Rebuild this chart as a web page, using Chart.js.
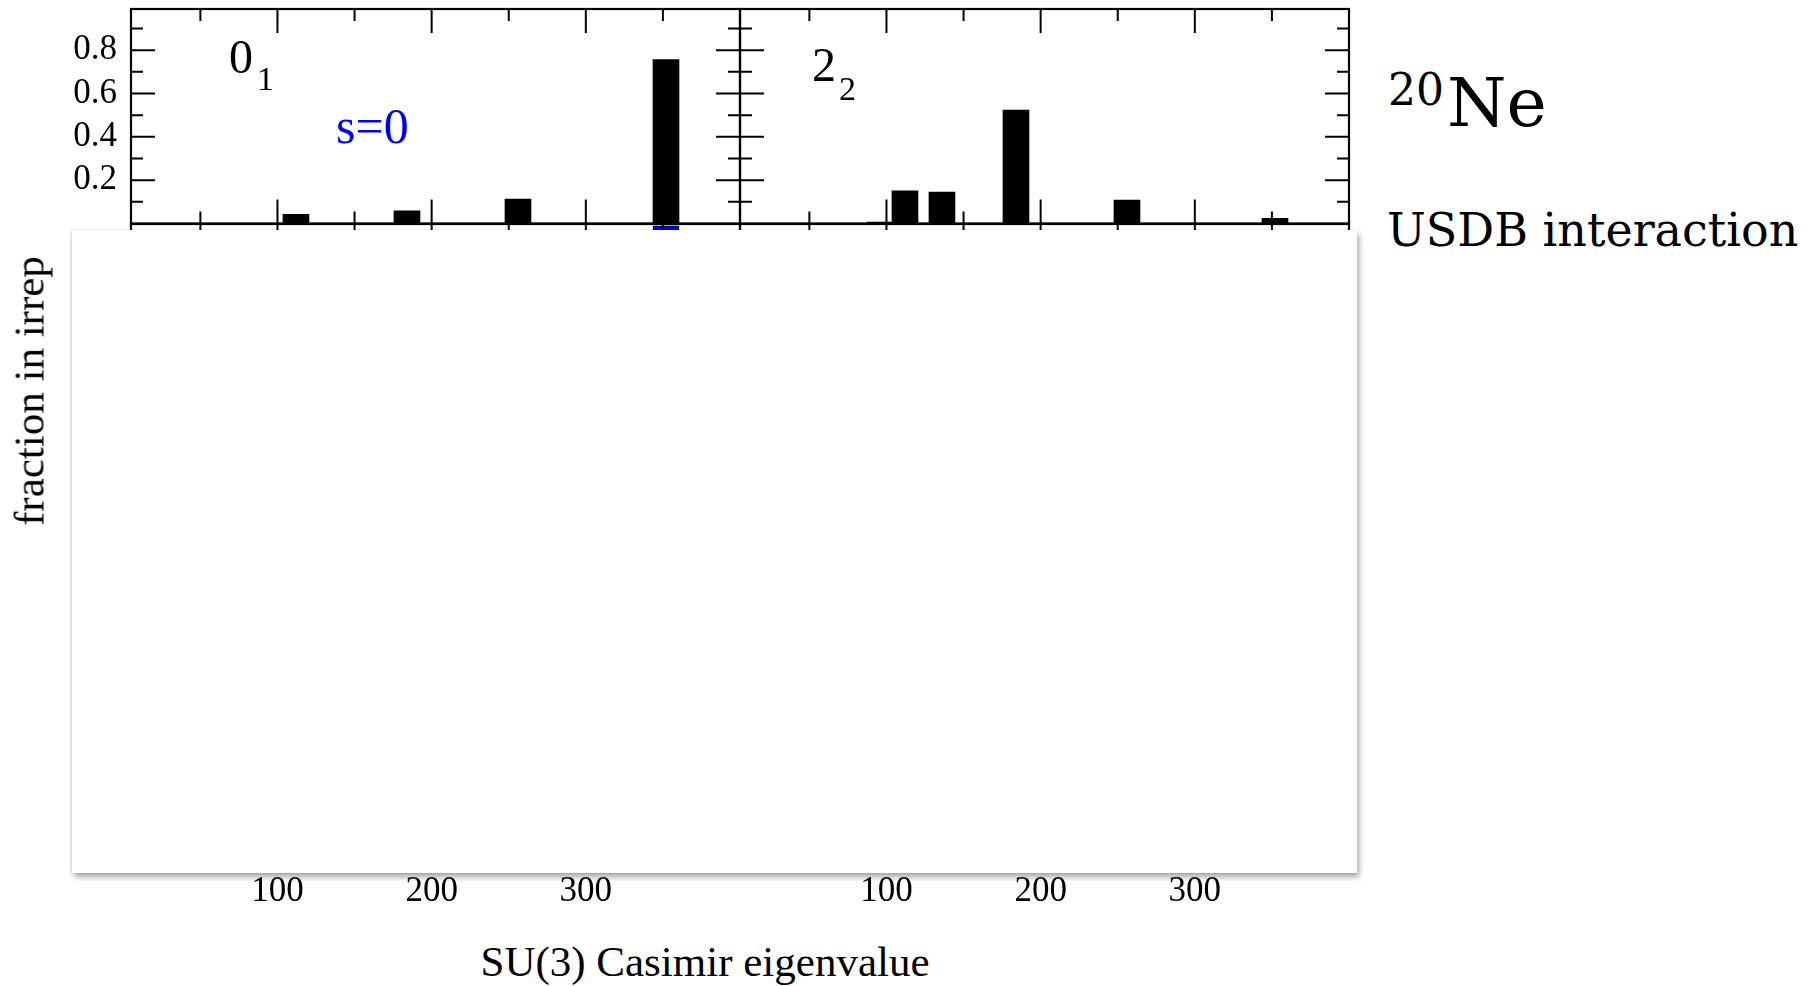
<!DOCTYPE html>
<html><head><meta charset="utf-8">
<script src="https://cdn.jsdelivr.net/npm/chart.js@4/dist/chart.umd.min.js"></script>
<style>
html,body{margin:0;padding:0;background:#fff;width:1819px;height:986px;overflow:hidden;position:relative}
canvas{position:absolute}
.t{position:absolute;white-space:nowrap;line-height:1;color:#000}
.serif{font-family:"Liberation Serif","Times New Roman",serif}
.dv{font-family:"DejaVu Serif",serif}
#cover{position:absolute;left:72px;top:230px;width:1285px;height:643px;background:#fff;box-shadow:2px 4px 6px rgba(0,0,0,0.35),-1px 0 2px rgba(0,0,0,0.12)}
</style></head><body>
<canvas id="bl" width="760" height="730" style="left:0;top:200px"></canvas>
<canvas id="br" width="660" height="730" style="left:720px;top:200px"></canvas>
<canvas id="tl" width="760" height="240" style="left:0;top:0"></canvas>
<canvas id="tr" width="660" height="240" style="left:720px;top:0"></canvas>
<div id="cover"></div>

<div class="t serif" style="left:229px;top:33px;font-size:48px">0</div>
<div class="t serif" style="left:257px;top:62px;font-size:34px">1</div>
<div class="t serif" style="left:812px;top:41px;font-size:48px">2</div>
<div class="t serif" style="left:839px;top:72px;font-size:34px">2</div>
<div class="t serif" style="left:336px;top:101px;font-size:50px;color:#0000ff">s=0</div>

<div class="t dv" style="left:1388px;top:68px;font-size:44px">20</div>
<div class="t dv" style="left:1447px;top:69px;font-size:68px">Ne</div>
<div class="t dv" style="left:1387px;top:207px;font-size:46px">USDB interaction</div>

<div class="t serif" style="left:705px;top:940px;font-size:43px;transform:translateX(-50%)">SU(3) Casimir eigenvalue</div>
<div class="t serif" style="left:29px;top:391px;font-size:43px;transform:translate(-50%,-50%) rotate(-90deg)">fraction in irrep</div>

<script>
// ---- data ----
const casimirTickLabels = [100, 200, 300];
const casimirMajorTicks = [100, 200, 300];
const casimirMinorTicks = [50, 150, 250, 350];
const fractionTickLabels = [0.2, 0.4, 0.6, 0.8];
const fractionMajorTicks = [0.2, 0.4, 0.6, 0.8];
const fractionMinorTicks = [0.1, 0.3, 0.5, 0.7, 0.9];

const state01Casimir = [112, 184, 256, 352];
const state01Fraction = [0.042, 0.058, 0.113, 0.757];

const state22Casimir = [96, 112, 136, 184, 256, 352];
const state22Fraction = [0.006, 0.151, 0.145, 0.523, 0.108, 0.024];

const lowerS0Casimir = [352];
const lowerS0Fraction = [0.997];

const lowerRightCasimir = [];
const lowerRightFraction = [];

// ---- helpers ----
const pts = (xs, ys) => xs.map((x, i) => ({x: x, y: ys[i]}));
const FONT = "'Liberation Serif','Times New Roman',serif";

const frameTicks = {
  id: 'frameTicks',
  afterDatasetsDraw(chart) {
    const {ctx, chartArea: a, scales: {x, y}} = chart;
    ctx.save();
    ctx.strokeStyle = '#000';
    ctx.lineWidth = 2;
    ctx.beginPath();
    const xt = casimirMajorTicks.map(v => [v, 24]).concat(casimirMinorTicks.map(v => [v, 12]));
    const yt = fractionMajorTicks.map(v => [v, 24]).concat(fractionMinorTicks.map(v => [v, 12]));
    for (const [v, len] of xt) {
      const px = x.getPixelForValue(v);
      ctx.moveTo(px, a.bottom); ctx.lineTo(px, a.bottom - len);
      ctx.moveTo(px, a.top); ctx.lineTo(px, a.top + len);
    }
    for (const [v, len] of yt) {
      const py = y.getPixelForValue(v);
      ctx.moveTo(a.left, py); ctx.lineTo(a.left + len, py);
      ctx.moveTo(a.right, py); ctx.lineTo(a.right - len, py);
    }
    ctx.stroke();
    ctx.lineWidth = 2.2;
    ctx.strokeRect(a.left, a.top, a.right - a.left, a.bottom - a.top);
    ctx.restore();
  }
};

function makePanel(id, data, color, opt) {
  const xScale = {
    type: 'linear', min: 5, max: 400, offset: false,
    display: opt.xLabels,
    grid: {display: false, drawTicks: false, offset: false},
    border: {display: false},
    afterBuildTicks: s => { s.ticks = casimirTickLabels.map(v => ({value: v})); },
    ticks: {padding: 21, color: '#000', autoSkip: false, maxRotation: 0, font: {family: FONT, size: 35}}
  };
  if (opt.xLabels) xScale.afterFit = s => { s.height = opt.xHeight; s.paddingLeft = 0; s.paddingRight = 0; };
  const yScale = {
    min: 0, max: opt.ymax,
    display: opt.yLabels,
    grid: {display: false, drawTicks: false},
    border: {display: false},
    afterBuildTicks: s => { s.ticks = fractionTickLabels.map(v => ({value: v})); },
    ticks: {padding: 14, color: '#000', autoSkip: false, font: {family: FONT, size: 35},
            callback: v => Number(v).toFixed(1)}
  };
  if (opt.yLabels) yScale.afterFit = s => { s.width = opt.yWidth; s.paddingTop = 0; s.paddingBottom = 0; };
  return new Chart(document.getElementById(id), {
    type: 'bar',
    data: {datasets: [{
      data: data,
      backgroundColor: color,
      borderColor: '#000',
      borderWidth: opt.border || 0,
      barThickness: 26,
      grouped: false
    }]},
    options: {
      responsive: false, animation: false, devicePixelRatio: 1,
      layout: {padding: opt.padding},
      plugins: {legend: {display: false}, tooltip: {enabled: false}},
      scales: {x: xScale, y: yScale}
    },
    plugins: [frameTicks]
  });
}

// lower row (mostly hidden by the white cover)
makePanel('bl', pts(lowerS0Casimir, lowerS0Fraction), '#0000ff',
  {xLabels: true, xHeight: 80, yLabels: false, ymax: 1, border: 1,
   padding: {left: 131, right: 20, top: 24, bottom: 0}});
makePanel('br', pts(lowerRightCasimir, lowerRightFraction), '#000',
  {xLabels: true, xHeight: 80, yLabels: false, ymax: 1,
   padding: {left: 20, right: 31, top: 24, bottom: 0}});

// upper row
makePanel('tl', pts(state01Casimir, state01Fraction), '#000',
  {xLabels: false, yLabels: true, yWidth: 131, ymax: 0.99,
   padding: {left: 0, right: 20, top: 9, bottom: 16.5}});
makePanel('tr', pts(state22Casimir, state22Fraction), '#000',
  {xLabels: false, yLabels: false, ymax: 0.99,
   padding: {left: 20, right: 31, top: 9, bottom: 16.5}});
</script>
</body></html>
